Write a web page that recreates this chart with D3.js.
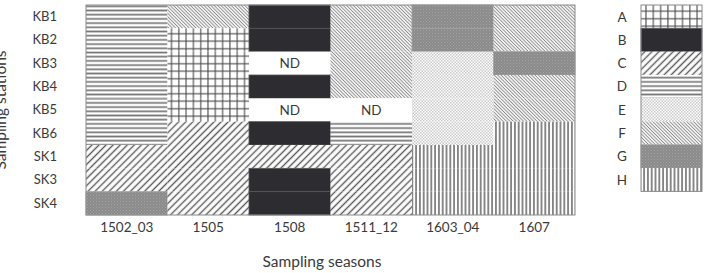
<!DOCTYPE html>
<html>
<head>
<meta charset="utf-8">
<script src="https://cdn.jsdelivr.net/npm/d3@7"></script>
<style>
  html, body { margin: 0; padding: 0; background: #fff; }
  svg { display: block; }
  text { font-family: Lato, "Open Sans", sans-serif; fill: #3a3a3a; }
</style>
</head>
<body>
<svg id="chart" width="705" height="273"></svg>
<script>
// ---- data ----
const seasons = ["1502_03", "1505", "1508", "1511_12", "1603_04", "1607"];
const stations = ["KB1", "KB2", "KB3", "KB4", "KB5", "KB6", "SK1", "SK3", "SK4"];
const classes = ["A", "B", "C", "D", "E", "F", "G", "H"];
const s1502_03 = ["D", "D", "D", "D", "D", "D", "C", "C", "G"];
const s1505    = ["F", "A", "A", "A", "A", "C", "C", "C", "C"];
const s1508    = ["B", "B", "ND", "B", "ND", "B", "C", "B", "B"];
const s1511_12 = ["F", "F", "F", "F", "ND", "D", "C", "C", "C"];
const s1603_04 = ["G", "G", "E", "E", "E", "E", "H", "H", "H"];
const s1607    = ["F", "F", "G", "F", "F", "H", "H", "H", "H"];
const seasonClasses = [s1502_03, s1505, s1508, s1511_12, s1603_04, s1607];
const xTitle = "Sampling seasons";
const yTitle = "Sampling stations";

// ---- setup ----
const svg = d3.select("#chart");
const defs = svg.append("defs");

function pat(id, w, h, rot) {
  const p = defs.append("pattern").attr("id", id)
    .attr("patternUnits", "userSpaceOnUse").attr("width", w).attr("height", h);
  if (rot) p.attr("patternTransform", "rotate(" + rot + ")");
  p.append("rect").attr("width", w).attr("height", h).attr("fill", "#fff");
  return p;
}
// A: grid
let p = pat("pA", 7.3, 7.5);
p.append("line").attr("x1", 3.6).attr("x2", 3.6).attr("y1", 0).attr("y2", 7.5).attr("stroke", "#4a4a4a").attr("stroke-width", 1.1);
p.append("line").attr("y1", 3.7).attr("y2", 3.7).attr("x1", 0).attr("x2", 7.3).attr("stroke", "#4a4a4a").attr("stroke-width", 1.1);
// C: coarse "/" lines
p = pat("pC", 5, 5, 45);
p.append("line").attr("x1", 2.5).attr("x2", 2.5).attr("y1", 0).attr("y2", 5).attr("stroke", "#5a5a5a").attr("stroke-width", 1.4);
// D: horizontal lines
p = pat("pD", 10, 4.2);
p.append("line").attr("x1", 0).attr("x2", 10).attr("y1", 2.1).attr("y2", 2.1).attr("stroke", "#777").attr("stroke-width", 1.7);
// E: light fine checker
p = pat("pE", 3, 3);
p.append("rect").attr("x", 0).attr("y", 0).attr("width", 1.5).attr("height", 1.5).attr("fill", "#c9c9c9");
p.append("rect").attr("x", 1.5).attr("y", 1.5).attr("width", 1.5).attr("height", 1.5).attr("fill", "#c9c9c9");
// F: fine "\" lines
p = pat("pF", 2.4, 2.4, -45);
p.append("line").attr("x1", 1.2).attr("x2", 1.2).attr("y1", 0).attr("y2", 2.4).attr("stroke", "#8c8c8c").attr("stroke-width", 1.0);
// G: dithered medium grey
p = defs.append("pattern").attr("id", "pG").attr("patternUnits", "userSpaceOnUse").attr("width", 3).attr("height", 3);
p.append("rect").attr("width", 3).attr("height", 3).attr("fill", "#8b8b8b");
p.append("rect").attr("x", 0).attr("y", 0).attr("width", 1).attr("height", 1).attr("fill", "#a3a3a3");
p.append("rect").attr("x", 1.5).attr("y", 1.5).attr("width", 1).attr("height", 1).attr("fill", "#9c9c9c");
// H: vertical lines
p = pat("pH", 3.8, 10);
p.append("line").attr("x1", 1.9).attr("x2", 1.9).attr("y1", 0).attr("y2", 10).attr("stroke", "#7e7e7e").attr("stroke-width", 1.8);

const fillFor = c => c === "ND" ? "#fff" : c === "B" ? "#2c2c31" : "url(#p" + c + ")";
const strokeFor = c => c === "B" ? "#56565a" : c === "G" ? "#a2a2a2" : "none";

// ---- scales ----
const x = d3.scaleBand().domain(seasons).range([86, 575]);
const y = d3.scaleBand().domain(stations).range([5, 215]);

const cells = [];
seasons.forEach((s, i) => stations.forEach((st, j) =>
  cells.push({ season: s, station: st, cls: seasonClasses[i][j] })));

svg.append("g").selectAll("rect").data(cells).join("rect")
  .attr("x", d => x(d.season)).attr("y", d => y(d.station))
  .attr("width", x.bandwidth()).attr("height", y.bandwidth())
  .attr("fill", d => fillFor(d.cls))
  .attr("stroke", d => strokeFor(d.cls)).attr("stroke-width", 0.8);

svg.append("g").selectAll("text").data(cells.filter(d => d.cls === "ND")).join("text")
  .attr("x", d => x(d.season) + x.bandwidth() / 2)
  .attr("y", d => y(d.station) + y.bandwidth() / 2)
  .attr("dy", "0.36em").attr("text-anchor", "middle")
  .attr("font-size", 13.5).text("ND");

// plot frame
svg.append("rect").attr("x", 86).attr("y", 5).attr("width", 489).attr("height", 210)
  .attr("fill", "none").attr("stroke", "#8a8a8a").attr("stroke-width", 1);

// axes
const xAxis = svg.append("g").attr("transform", "translate(0,215)")
  .call(d3.axisBottom(x).tickSize(0).tickPadding(7.5));
xAxis.select(".domain").remove();
xAxis.selectAll("text").attr("font-size", 13.5).style("font-family", "Lato, sans-serif").attr("fill", "#3a3a3a");

const yAxis = svg.append("g").attr("transform", "translate(86,0)")
  .call(d3.axisLeft(y).tickSize(0).tickPadding(29));
yAxis.select(".domain").remove();
yAxis.selectAll("text").attr("font-size", 13).style("font-family", "Lato, sans-serif").attr("fill", "#3a3a3a");

svg.append("text").attr("x", 322).attr("y", 267).attr("text-anchor", "middle")
  .attr("font-size", 15.5).text(xTitle);
svg.append("text").attr("transform", "translate(6,110) rotate(-90)").attr("text-anchor", "middle")
  .attr("font-size", 15.5).text(yTitle);

// legend
const ly = d3.scaleBand().domain(classes).range([5, 5 + 8 * 23.3]);
const lg = svg.append("g");
lg.selectAll("rect").data(classes).join("rect")
  .attr("x", 641).attr("y", d => ly(d)).attr("width", 61).attr("height", ly.bandwidth())
  .attr("fill", d => fillFor(d)).attr("stroke", d => strokeFor(d)).attr("stroke-width", 0.8);
lg.append("rect").attr("x", 641).attr("y", 5).attr("width", 61).attr("height", 8 * 23.3)
  .attr("fill", "none").attr("stroke", "#8a8a8a").attr("stroke-width", 1);
lg.selectAll("text").data(classes).join("text")
  .attr("x", 622).attr("y", d => ly(d) + ly.bandwidth() / 2).attr("dy", "0.36em")
  .attr("text-anchor", "middle").attr("font-size", 13.5).text(d => d);
</script>
</body>
</html>
